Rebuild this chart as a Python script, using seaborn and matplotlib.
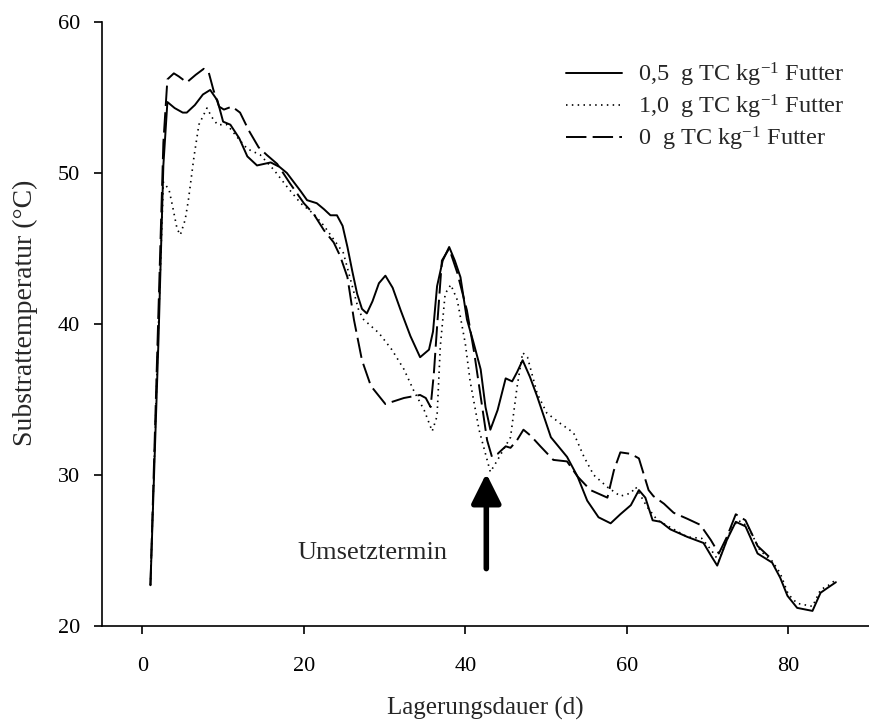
import matplotlib
matplotlib.use("Agg")
import matplotlib.pyplot as plt
import seaborn as sns
import pandas as pd

# ---- data ----
x_05 = [1.0, 2.0, 2.6, 3.1, 4.0, 5.0, 5.5, 6.5, 7.5, 8.4, 9.3, 10.0, 10.9, 12.0, 13.0, 14.2,
        15.9, 17.0, 17.9, 19.6, 20.4, 21.6, 22.5, 23.3, 24.1, 24.8, 25.4, 26.0, 26.6, 27.2,
        27.8, 28.5, 29.3, 30.1, 31.0, 32.0, 33.2, 34.4, 35.5, 36.0, 36.5, 37.2, 38.0, 38.7,
        39.4, 40.2, 41.0, 41.9, 42.5, 43.1, 44.0, 45.0, 45.8, 46.4, 47.1, 48.0, 48.9, 50.6,
        52.6, 53.9, 55.1, 56.5, 58.0, 59.2, 60.5, 61.5, 62.3, 63.2, 64.2, 65.4, 67.5, 69.5,
        70.5, 71.2, 72.4, 73.5, 74.7, 76.2, 78.0, 79.0, 79.9, 81.1, 83.0, 84.0, 84.8, 85.9]
y_05 = [22.7, 39.0, 50.5, 54.7, 54.3, 54.0, 54.0, 54.5, 55.2, 55.5, 54.8, 53.4, 53.2, 52.3, 51.1, 50.5,
        50.7, 50.4, 50.0, 48.8, 48.2, 48.0, 47.6, 47.2, 47.2, 46.5, 45.1, 43.5, 42.0, 41.0,
        40.7, 41.5, 42.7, 43.2, 42.4, 40.9, 39.2, 37.8, 38.3, 39.5, 42.5, 44.2, 45.1, 44.2,
        43.1, 40.3, 38.8, 37.0, 34.5, 33.0, 34.3, 36.4, 36.2, 36.8, 37.6, 36.5, 35.2, 32.5,
        31.2, 29.9, 28.3, 27.2, 26.8, 27.4, 28.0, 29.0, 28.5, 27.0, 26.9, 26.4, 25.9, 25.5,
        24.6, 24.0, 25.7, 26.9, 26.6, 24.8, 24.2, 23.2, 22.0, 21.2, 21.0, 22.2, 22.5, 22.9]

x_10 = [1.0, 2.0, 2.6, 3.3, 3.7, 4.3, 4.7, 5.3, 5.7, 6.4, 7.0, 8.0, 8.6, 9.3, 10.5, 11.7, 13.0,
        14.6, 16.3, 17.9, 19.6, 21.2, 22.5, 24.1, 24.9, 25.8, 26.8, 27.4, 29.3, 30.9, 32.4,
        33.6, 34.9, 35.9, 36.5, 36.9, 37.5, 38.2, 39.0, 40.0, 40.6, 41.7, 42.5, 43.1, 44.0,
        45.6, 46.4, 47.1, 47.7, 48.9, 50.1, 51.8, 53.4, 54.7, 55.9, 57.6, 59.2, 60.5, 61.1,
        62.5, 63.8, 65.5, 67.5, 69.3, 70.5, 71.4, 72.9, 73.8, 75.0, 76.5, 78.0, 79.0, 80.0,
        81.1, 83.0, 84.0, 85.0, 86.0]
y_10 = [22.7, 40.0, 49.4, 48.9, 47.9, 46.3, 45.9, 46.9, 48.2, 51.1, 53.2, 54.3, 53.7, 53.2, 53.2, 52.4, 51.6,
        51.2, 50.2, 49.1, 48.0, 47.3, 46.5, 45.3, 44.7, 42.9, 40.9, 40.3, 39.4, 38.3, 37.0,
        35.6, 34.3, 32.9, 33.9, 38.5, 42.0, 42.6, 41.6, 38.7, 36.2, 33.0, 31.4, 30.2, 31.0,
        32.5, 35.8, 38.1, 37.8, 35.4, 34.1, 33.4, 32.8, 31.2, 30.0, 29.2, 28.6, 28.8, 29.2,
        27.9, 27.0, 26.5, 25.9, 25.8, 25.0, 24.3, 26.4, 27.0, 26.6, 25.0, 24.3, 23.5, 22.1,
        21.5, 21.3, 22.4, 22.7, 23.1]

x_00 = [1.0, 2.0, 2.6, 3.1, 3.9, 4.5, 5.5, 6.6, 7.6, 8.2, 8.8, 9.5, 10.1, 11.1, 12.1, 13.2, 14.4,
        15.4, 16.7, 18.3, 20.0, 21.2, 22.5, 23.7, 24.5, 25.4, 26.2, 27.2, 28.3, 30.1, 32.4,
        34.4, 35.1, 35.7, 36.1, 36.5, 37.1, 38.0, 39.0, 40.2, 41.1, 41.9, 42.7, 43.3, 44.0,
        45.0, 45.6, 46.4, 47.2, 48.1, 49.3, 50.9, 52.6, 53.9, 55.5, 57.6, 58.4, 59.2, 60.5,
        61.5, 62.7, 63.3, 64.6, 65.8, 67.5, 69.1, 70.4, 71.4, 72.4, 73.5, 74.7, 76.2, 78.0]
y_00 = [22.7, 41.0, 52.0, 56.2, 56.6, 56.4, 56.0, 56.5, 56.9, 56.7, 55.5, 54.4, 54.2, 54.4, 54.0, 52.8, 51.7,
        51.2, 50.6, 49.3, 48.0, 47.3, 46.2, 45.4, 44.5, 43.1, 40.3, 37.6, 35.9, 34.7, 35.1,
        35.3, 35.1, 34.5, 36.7, 39.8, 44.2, 45.0, 43.4, 40.9, 38.1, 35.2, 32.3, 31.2, 31.4,
        31.9, 31.8, 32.3, 33.0, 32.6, 31.9, 31.0, 30.9, 29.9, 29.0, 28.5, 30.3, 31.5, 31.4,
        31.1, 29.0, 28.6, 28.1, 27.5, 27.1, 26.7, 25.7, 24.8, 25.9, 27.4, 27.0, 25.3, 24.4]

labels = [r"0,5  g TC kg$^{-1}$ Futter",
          r"1,0  g TC kg$^{-1}$ Futter",
          r"0  g TC kg$^{-1}$ Futter"]
x_ticks = [0, 20, 40, 60, 80]
y_ticks = [20, 30, 40, 50, 60]
arrow_x, arrow_tail, arrow_tip = 42.6, 23.8, 30.1
note_text = "Umsetztermin"

# ---- style ----
sns.set_style("ticks")
plt.rcParams["font.family"] = ["Liberation Serif", "DejaVu Serif"]
plt.rcParams["mathtext.fontset"] = "custom"
plt.rcParams["mathtext.rm"] = "Liberation Serif"
plt.rcParams["mathtext.it"] = "Liberation Serif:italic"
plt.rcParams["mathtext.bf"] = "Liberation Serif:bold"

fig = plt.figure(figsize=(8.7, 7.24), dpi=100)
ax = fig.add_axes([102 / 870, 1 - 626 / 724, (869 - 102) / 870, (626 - 22) / 724])

df05 = pd.DataFrame({"d": x_05, "t": y_05})
df10 = pd.DataFrame({"d": x_10, "t": y_10})
df00 = pd.DataFrame({"d": x_00, "t": y_00})

common = dict(ax=ax, color="black", sort=False, estimator=None,
              solid_joinstyle="round", dash_joinstyle="round")
sns.lineplot(data=df05, x="d", y="t", lw=1.4, linestyle="-",
             label=labels[0], **common)
sns.lineplot(data=df10, x="d", y="t", lw=1.2, linestyle=(0, (0.9, 2.6)),
             label=labels[1], **common)
sns.lineplot(data=df00, x="d", y="t", lw=1.4, linestyle=(0, (10.5, 3.2)),
             label=labels[2], **common)

ax.set_xlim(-5, 90)
ax.set_ylim(20, 60)
ax.set_xticks(x_ticks)
ax.set_yticks(y_ticks)
sns.despine(ax=ax)
for s in ("left", "bottom"):
    ax.spines[s].set_linewidth(1.2)
    ax.spines[s].set_color("black")
ax.tick_params(axis="both", direction="out", length=6, width=1.2, colors="black",
               labelsize=16)
ax.tick_params(axis="x", pad=16)
ax.tick_params(axis="y", pad=10)

ax.set_xlabel("Lagerungsdauer (d)", fontsize=18)
ax.set_ylabel("Substrattemperatur (°C)", fontsize=20)
ax.xaxis.set_label_coords(0.5, -(697 - 626) / 604)
ax.yaxis.set_label_coords((38 - 102) / 767, (626 - 313) / 604)

ax.annotate("", xy=(arrow_x, arrow_tip), xytext=(arrow_x, arrow_tail),
            arrowprops=dict(arrowstyle="-|>,head_length=0.9,head_width=0.45",
                            mutation_scale=20, lw=4, color="black",
                            shrinkA=0, shrinkB=0))
ax.text(28.5, 24.85, note_text, ha="center", va="center", fontsize=19)

leg = ax.legend(loc="upper right", bbox_to_anchor=(854 / 870, 1 - 51 / 724),
                bbox_transform=fig.transFigure, frameon=False, fontsize=17.5,
                handlelength=2.3, handletextpad=0.65, labelspacing=0.15,
                borderaxespad=0)

fig.savefig("out.png", dpi=100)
